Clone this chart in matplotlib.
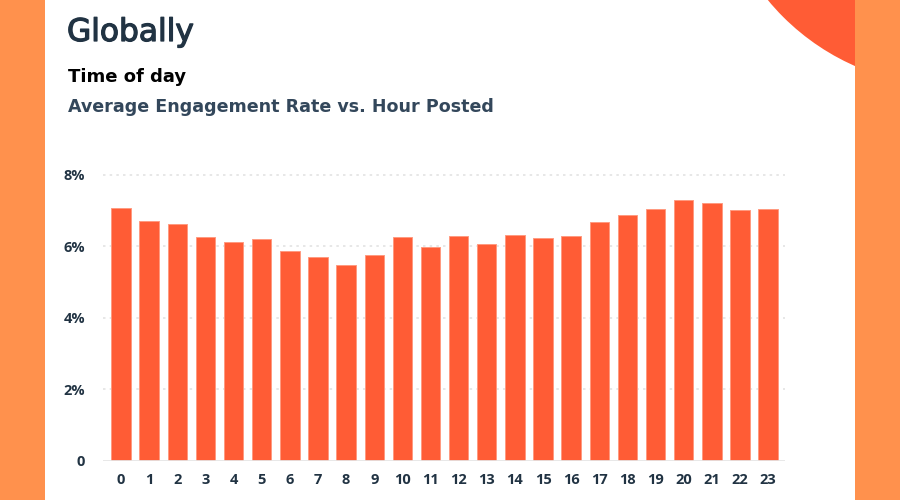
import matplotlib as mpl
mpl.use('Agg')

import matplotlib.pyplot as plt
import matplotlib.patheffects as pe
from matplotlib.patches import Rectangle, Circle

# Data
hours = list(range(24))
engagement = [7.07, 6.71, 6.62, 6.27, 6.13, 6.20, 5.87, 5.71, 5.48, 5.75,
              6.27, 5.98, 6.29, 6.08, 6.32, 6.23, 6.29, 6.68, 6.87, 7.06,
              7.31, 7.23, 7.01, 7.06]
y_ticks = [0, 2, 4, 6, 8]
y_tick_labels = ['0', '2%', '4%', '6%', '8%']

title = "Globally"
section = "Time of day"
subtitle = "Average Engagement Rate vs. Hour Posted"

# Colours
strip_color = '#FF914D'
bar_color = '#FF5C35'
bar_edge = '#FF9A80'
navy = '#213343'
slate = '#33475B'
grid_color = '#E3E3E3'

plt.rcParams['font.family'] = ['Open Sans', 'DejaVu Sans']
head_font = ['DejaVu Sans']
tick_font = ['Open Sans', 'DejaVu Sans']

fig = plt.figure(figsize=(9, 5), dpi=100, facecolor='white')

# Background canvas in pixel units
bg = fig.add_axes([0, 0, 1, 1], zorder=0)
bg.set_xlim(0, 900)
bg.set_ylim(500, 0)
bg.axis('off')
bg.add_patch(Circle((950, -150), 236, color=bar_color, lw=0))
bg.add_patch(Rectangle((0, 0), 45, 500, color=strip_color, lw=0))
bg.add_patch(Rectangle((855, 0), 45, 500, color=strip_color, lw=0))

t = fig.text(67 / 900, 1 - 41 / 500, title, fontsize=22.5, color=navy,
             family=head_font, va='baseline', ha='left')
t.set_path_effects([pe.withStroke(linewidth=0.9, foreground=navy)])
fig.text(68 / 900, 1 - 82 / 500, section, fontsize=13, color='black',
         family=head_font, fontweight='bold', va='baseline', ha='left')
fig.text(68 / 900, 1 - 112 / 500, subtitle, fontsize=12.6, color=slate,
         family=head_font, fontweight='bold', va='baseline', ha='left')

# Main chart
ax = fig.add_axes([103 / 900, 1 - 461 / 500, 682 / 900, 287.8 / 500], zorder=1)
ax.patch.set_alpha(0)
ax.bar(hours, engagement, width=0.69, color=bar_color, edgecolor=bar_edge,
       linewidth=0.7, zorder=2)

for t in y_ticks[1:]:
    ax.axhline(t, color=grid_color, lw=1.2, ls=(0, (1.5, 2.5)), zorder=1)
ax.axhline(0, color='#E6E6E6', lw=2, zorder=3)

ax.set_xlim(-0.64, 23.6)
ax.set_ylim(0, 8.05)
ax.set_xticks(hours)
ax.set_xticklabels([str(h) for h in hours], family=tick_font,
                   fontweight='bold', fontsize=10.5, color=navy)
ax.set_yticks(y_ticks)
ax.set_yticklabels(y_tick_labels, family=tick_font,
                   fontweight='bold', fontsize=10.5, color=navy)
ax.tick_params(axis='both', length=0)
ax.tick_params(axis='x', pad=9)
ax.tick_params(axis='y', pad=13)
for side in ['top', 'right', 'left', 'bottom']:
    ax.spines[side].set_visible(False)

fig.savefig('out.png', dpi=100, facecolor=fig.get_facecolor())
